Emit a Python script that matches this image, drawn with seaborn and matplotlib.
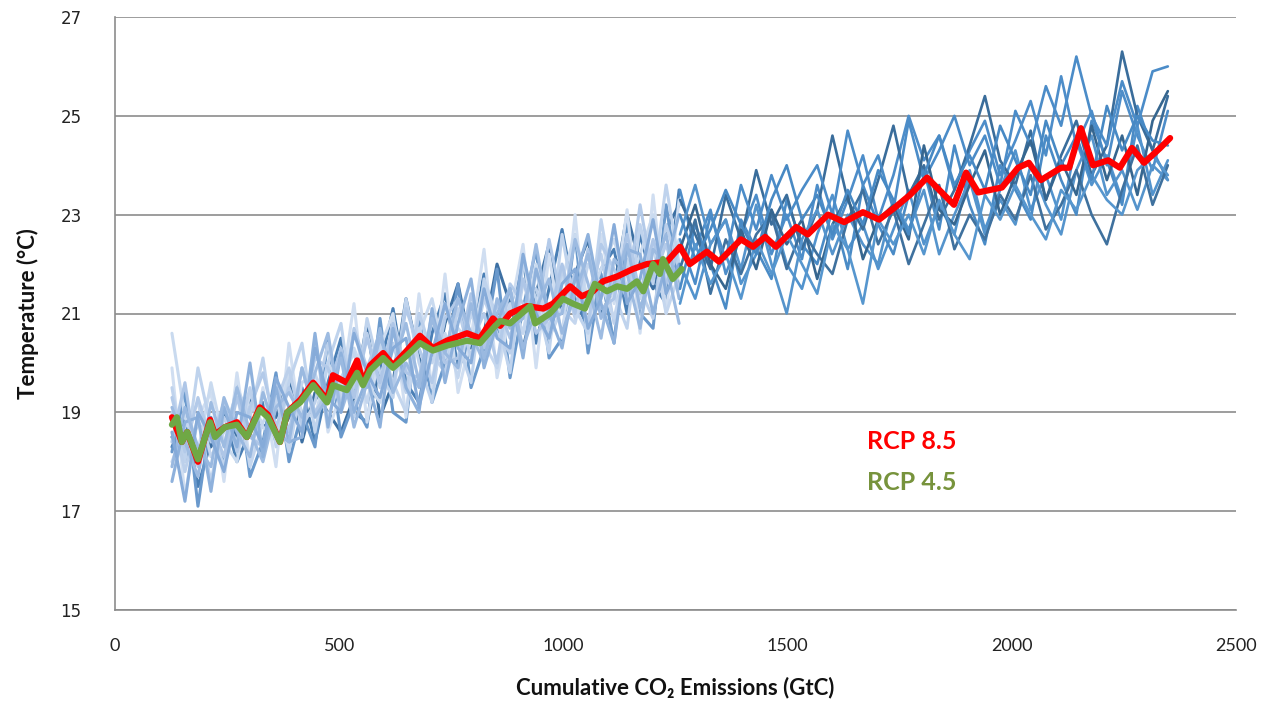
import numpy as np
import pandas as pd
import matplotlib
matplotlib.use("Agg")
import matplotlib.pyplot as plt
import seaborn as sns

# ---------------- data ----------------
rcp85_x = [127, 149, 161, 185, 212, 223, 245, 272, 294, 323, 341, 368, 384, 413, 442, 473, 486, 517, 540, 553,
           569, 598, 620, 651, 680, 709, 740, 785, 814, 843, 859, 881, 919, 955, 977, 1015, 1041, 1066, 1088, 1120,
           1155, 1186, 1231, 1260, 1282, 1320, 1347, 1396, 1423, 1450, 1474, 1519, 1545, 1590, 1626, 1668, 1704,
           1740, 1773, 1811, 1871, 1898, 1925, 1978, 2014, 2038, 2065, 2110, 2128, 2154, 2181, 2215, 2241, 2268,
           2295, 2331, 2353]
rcp85_y = [18.9, 18.4, 18.6, 18.0, 18.85, 18.55, 18.7, 18.8, 18.5, 19.1, 18.95, 18.4, 19.0, 19.25, 19.6, 19.25,
           19.75, 19.6, 20.05, 19.6, 19.95, 20.2, 19.95, 20.25, 20.55, 20.3, 20.45, 20.6, 20.5, 20.9, 20.75, 21.0,
           21.15, 21.1, 21.2, 21.55, 21.35, 21.45, 21.65, 21.75, 21.9, 22.0, 22.05, 22.35, 22.0, 22.25, 22.05, 22.5,
           22.35, 22.55, 22.35, 22.75, 22.6, 23.0, 22.85, 23.05, 22.9, 23.15, 23.4, 23.75, 23.2, 23.85, 23.45,
           23.55, 23.95, 24.05, 23.7, 23.95, 23.95, 24.75, 24.0, 24.1, 23.95, 24.35, 24.05, 24.35, 24.55]

rcp45_x = [127, 138, 149, 161, 185, 201, 212, 223, 245, 272, 294, 323, 341, 368, 384, 413, 442, 473, 486, 517,
           540, 553, 569, 598, 620, 651, 680, 709, 740, 785, 814, 843, 859, 881, 926, 937, 970, 999, 1021, 1048,
           1070, 1097, 1120, 1142, 1164, 1178, 1200, 1215, 1222, 1244, 1264]
rcp45_y = [18.75, 18.9, 18.4, 18.6, 18.05, 18.5, 18.8, 18.5, 18.7, 18.75, 18.5, 19.05, 18.9, 18.4, 19.0, 19.2,
           19.55, 19.2, 19.55, 19.45, 19.8, 19.55, 19.85, 20.1, 19.9, 20.15, 20.4, 20.25, 20.35, 20.45, 20.4, 20.7,
           20.85, 20.8, 21.15, 20.8, 21.0, 21.3, 21.2, 21.1, 21.6, 21.45, 21.55, 21.5, 21.65, 21.45, 22.0, 21.8,
           22.1, 21.7, 21.9]

# ensemble members, early period (cumulative emissions 127-1258 GtC)
early_x = np.linspace(127, 1258, 40)
early_1 = [19.3, 18.2, 19.3, 18.4, 19.2, 18.2, 19.1, 19.8, 18.7, 19.5, 18.8, 20.1, 19.9, 19.1, 20.7, 19.9, 20.6, 19.5,
           21.1, 20.3, 19.6, 20.9, 21.3, 20.4, 21.0, 20.0, 21.6, 21.2, 20.8, 22.5, 21.2, 21.8, 20.8, 22.4, 21.9, 21.3,
           23.2, 21.7, 22.4, 21.5]
early_2 = [18.4, 19.6, 17.9, 18.8, 18.1, 19.3, 18.5, 18.3, 19.6, 18.6, 19.9, 19.0, 19.4, 20.3, 19.3, 20.5, 19.6, 20.8,
           19.8, 19.7, 20.9, 20.0, 20.1, 21.4, 20.3, 21.2, 20.5, 21.7, 20.6, 20.9, 22.0, 21.0, 22.3, 21.1, 21.3, 22.6,
           21.4, 22.5, 21.6, 22.3]
early_3 = [19.0, 17.8, 18.9, 17.6, 18.9, 18.4, 19.5, 18.2, 19.2, 19.9, 18.7, 19.2, 20.4, 19.2, 19.5, 20.6, 19.5, 20.4,
           19.4, 21.0, 20.2, 19.8, 21.1, 20.1, 21.3, 20.6, 20.2, 21.6, 21.5, 20.7, 21.9, 20.9, 21.4, 22.2, 20.8, 22.0,
           21.5, 20.9, 22.8, 21.9]
early_4 = [20.6, 18.9, 18.2, 19.6, 18.4, 18.0, 19.4, 18.7, 18.5, 19.8, 19.0, 18.9, 20.0, 19.5, 20.3, 19.6, 19.2, 20.9,
           19.8, 20.6, 21.3, 20.1, 20.7, 20.4, 21.6, 20.8, 21.4, 20.6, 22.0, 21.0, 21.7, 22.6, 21.2, 21.9, 22.5, 21.5,
           22.2, 23.0, 21.7, 22.5]
early_5 = [17.9, 19.1, 18.3, 17.9, 19.3, 18.6, 18.1, 19.4, 18.6, 18.4, 19.9, 18.9, 19.3, 20.1, 18.7, 19.6, 20.7, 19.4,
           20.0, 19.5, 20.9, 20.2, 19.9, 21.2, 20.1, 21.0, 21.5, 20.3, 21.1, 21.7, 20.6, 21.4, 22.2, 20.9, 21.6, 22.4,
           21.1, 21.9, 22.6, 21.3]
early_6 = [18.6, 17.2, 19.0, 18.5, 17.8, 19.0, 18.9, 18.3, 19.7, 19.1, 18.6, 20.3, 19.3, 19.0, 20.6, 19.8, 19.3, 20.3,
           20.5, 19.1, 20.2, 21.2, 20.3, 20.0, 21.5, 20.5, 20.3, 22.2, 21.0, 20.5, 21.6, 21.9, 20.7, 21.3, 22.8, 21.2,
           21.7, 22.9, 21.4, 22.0]
early_7 = [18.3, 18.9, 17.5, 18.4, 19.0, 18.0, 18.6, 19.2, 18.4, 18.9, 19.5, 18.4, 19.6, 20.5, 19.0, 18.8, 19.9, 21.1,
           19.6, 19.2, 20.6, 21.4, 19.9, 20.4, 21.8, 20.6, 21.1, 22.1, 20.4, 21.5, 22.7, 21.3, 20.7, 21.9, 22.3, 21.0,
           22.6, 21.6, 21.2, 23.5]
early_8 = [18.5, 18.0, 18.8, 18.3, 19.0, 18.5, 19.3, 18.7, 18.9, 19.7, 18.4, 19.4, 19.0, 18.6, 19.3, 20.8, 18.9, 19.6,
           21.3, 20.1, 19.5, 20.8, 21.6, 20.3, 20.6, 22.0, 21.2, 20.3, 21.4, 22.4, 21.0, 21.8, 22.5, 21.0, 21.5, 23.0,
           22.0, 21.5, 22.7, 23.2]
early_9 = [18.0, 18.7, 19.2, 18.1, 18.6, 19.4, 17.9, 18.8, 19.3, 18.2, 19.6, 19.8, 18.9, 19.7, 20.2, 19.2, 20.4, 19.6,
           19.0, 20.7, 20.0, 20.6, 19.7, 21.0, 20.4, 19.9, 21.2, 20.6, 21.9, 20.5, 21.1, 20.8, 22.0, 21.6, 20.9, 22.1,
           21.3, 22.4, 21.0, 21.8]
early_10 = [19.1, 18.4, 17.7, 19.2, 18.3, 19.5, 18.6, 18.0, 19.1, 19.4, 18.9, 19.8, 20.6, 19.0, 19.8, 19.5, 20.5, 19.9,
            20.8, 19.6, 21.0, 20.2, 21.3, 20.6, 20.0, 21.3, 20.7, 20.9, 22.4, 20.9, 21.0, 22.5, 21.6, 20.5, 22.1, 21.8,
            20.7, 22.3, 22.0, 20.8]
early_11 = [19.9, 17.3, 18.9, 19.4, 17.6, 19.8, 18.0, 19.5, 17.9, 20.4, 18.5, 20.5, 18.6, 19.4, 21.2, 18.8, 20.3, 21.0,
            18.9, 21.4, 19.5, 21.8, 19.4, 20.5, 22.3, 19.7, 21.0, 22.4, 19.9, 22.2, 20.5, 23.0, 20.4, 22.6, 21.2, 23.1,
            20.6, 23.4, 21.0, 23.3]
early_12 = [18.2, 19.4, 17.1, 18.9, 18.0, 19.6, 17.7, 18.4, 19.8, 18.0, 19.0, 18.3, 20.5, 18.5, 19.2, 18.7, 20.9, 19.0,
            18.8, 21.0, 19.2, 20.0, 21.6, 19.5, 20.3, 21.9, 19.7, 21.1, 22.3, 20.1, 20.5, 22.6, 20.2, 21.8, 20.4, 22.9,
            21.0, 20.7, 23.2, 21.5]
early_13 = [19.5, 18.0, 19.9, 18.7, 17.9, 19.5, 18.9, 20.1, 18.3, 19.6, 20.4, 18.6, 20.0, 20.8, 18.9, 20.9, 19.8, 19.3,
            21.3, 20.0, 19.2, 21.2, 20.4, 19.6, 21.7, 20.9, 19.8, 22.0, 21.3, 20.2, 22.6, 21.1, 20.6, 22.9, 21.4, 20.7,
            22.8, 21.6, 23.6, 22.0]
early_14 = [17.6, 18.8, 18.9, 17.4, 19.1, 18.3, 20.0, 18.1, 19.5, 18.4, 18.5, 20.6, 18.7, 20.2, 19.0, 19.7, 18.7, 20.7,
            19.5, 19.0, 21.1, 19.6, 20.8, 21.7, 19.9, 20.8, 21.5, 20.1, 21.9, 21.0, 20.3, 21.7, 22.6, 21.2, 20.4, 22.3,
            22.2, 21.0, 22.0, 23.0]

# ensemble members, late period (RCP 8.5 only, 1260-2348 GtC)
late_x = np.linspace(1260, 2348, 33)
late_1 = [23.5, 22.3, 23.1, 21.8, 22.6, 23.4, 22.2, 23.0, 22.1, 23.6, 22.5, 23.3, 24.2, 22.9, 23.8, 25.0, 24.1, 24.6,
          23.5, 24.3, 24.9, 23.8, 24.5, 25.3, 24.2, 25.8, 24.4, 25.1, 24.0, 25.5, 24.6, 23.9, 25.1]
late_2 = [22.0, 21.3, 22.4, 22.9, 21.6, 22.2, 23.1, 22.0, 21.5, 22.6, 23.4, 22.3, 22.8, 21.9, 22.7, 23.5, 22.4, 23.2,
          22.6, 23.9, 22.7, 23.5, 24.3, 23.1, 23.8, 22.9, 24.5, 23.6, 24.2, 23.3, 24.8, 23.4, 24.1]
late_3 = [21.5, 22.8, 22.0, 21.1, 22.9, 22.3, 21.7, 23.3, 22.4, 22.0, 23.1, 21.9, 23.6, 22.8, 22.2, 23.4, 23.9, 22.7,
          24.4, 23.2, 22.4, 24.0, 23.5, 22.9, 24.6, 23.7, 23.0, 24.9, 24.1, 23.2, 25.2, 24.3, 23.7]
late_4 = [23.3, 22.6, 21.9, 23.4, 22.5, 23.9, 22.8, 23.4, 22.3, 23.1, 24.6, 23.3, 22.7, 23.7, 24.8, 23.4, 24.0, 22.9,
          23.5, 24.4, 25.4, 24.1, 23.6, 24.7, 23.3, 24.2, 24.9, 23.8, 24.4, 26.3, 25.0, 24.3, 25.4]
late_5 = [22.6, 23.6, 22.4, 22.9, 21.9, 23.2, 22.0, 21.0, 22.5, 23.1, 22.2, 23.0, 22.4, 22.0, 23.3, 22.7, 23.5, 22.2,
          23.0, 23.7, 22.6, 23.3, 22.8, 24.0, 23.2, 22.6, 23.9, 24.6, 23.4, 23.9, 23.1, 24.0, 23.7]
late_6 = [21.9, 22.9, 21.4, 22.5, 21.8, 22.6, 23.0, 21.9, 22.7, 22.2, 21.8, 22.9, 23.5, 22.4, 23.1, 22.0, 22.8, 23.6,
          22.3, 23.0, 22.5, 23.4, 22.9, 23.8, 22.7, 23.2, 23.9, 23.0, 22.4, 23.5, 24.4, 23.2, 24.0]
late_7 = [22.5, 21.6, 23.0, 22.1, 23.6, 22.7, 23.8, 22.9, 23.5, 24.0, 23.0, 24.7, 23.6, 24.2, 23.1, 24.9, 23.7, 24.3,
          25.0, 24.0, 24.6, 23.6, 25.1, 24.4, 25.6, 24.8, 26.2, 25.0, 24.4, 25.7, 24.8, 25.9, 26.0]
late_8 = [22.3, 23.2, 22.0, 21.5, 22.7, 21.9, 23.1, 22.4, 22.9, 21.7, 22.8, 23.4, 22.1, 22.9, 23.2, 22.5, 24.4, 23.1,
          22.8, 23.6, 24.3, 23.0, 23.8, 24.5, 23.3, 24.1, 23.4, 24.8, 23.7, 24.6, 23.4, 24.9, 25.5]
late_9 = [21.2, 22.4, 21.6, 22.2, 21.3, 22.5, 21.8, 22.6, 22.0, 21.4, 22.8, 22.3, 21.2, 22.9, 22.4, 23.0, 22.2, 23.3,
          22.6, 22.1, 23.4, 22.9, 23.6, 23.0, 22.5, 23.5, 23.1, 23.8, 23.3, 23.0, 23.9, 24.2, 23.8]
late_10 = [23.0, 22.1, 22.7, 23.5, 22.8, 22.2, 23.3, 24.0, 22.9, 23.4, 22.6, 23.5, 22.8, 23.9, 23.3, 22.6, 23.8, 24.6,
           23.6, 24.2, 23.5, 24.8, 24.1, 23.4, 24.9, 24.0, 24.6, 23.7, 25.2, 24.3, 25.0, 24.5, 24.4]

x_ticks = [0, 500, 1000, 1500, 2000, 2500]
y_ticks = [15, 17, 19, 21, 23, 25, 27]
labels = ["RCP 8.5", "RCP 4.5"]

# ---------------- style ----------------
sns.set_style("white")
plt.rcParams["font.family"] = ["DejaVu Sans"]

fig = plt.figure(figsize=(12.76, 7.05), dpi=100)
ax = fig.add_axes([115 / 1276, 95 / 705, 1121 / 1276, 593 / 705])

early = [early_7, early_8, early_12, early_11, early_4, early_13, early_3, early_9, early_2, early_1, early_10,
         early_14, early_5, early_6]
early_cols = ["#4a7fb5", "#3d70a3", "#6a99cc", "#d0def1", "#c9daef", "#bfd3ed", "#bcd0eb", "#c4d6ee",
              "#aec6e7", "#b3cae9", "#9dbbe1", "#8eb1dc", "#9ab9e0", "#86abd9"]
for ys, c in zip(early, early_cols):
    sns.lineplot(x=early_x, y=ys, color=c, lw=2.2, ax=ax, sort=False, estimator=None)

late = [late_1, late_2, late_3, late_4, late_5, late_6, late_7, late_8, late_9, late_10]
late_cols = ["#4d8dc9", "#5293cd", "#4a8bc6", "#3a6d9b", "#5594cc", "#3f719e",
             "#4b8cc8", "#36668f", "#5696ce", "#4789c4"]
for ys, c in zip(late, late_cols):
    sns.lineplot(x=late_x, y=ys, color=c, lw=1.9, ax=ax, sort=False, estimator=None)

sns.lineplot(x=rcp85_x, y=rcp85_y, color="#ff0000", lw=4.5, ax=ax, sort=False, estimator=None)
sns.lineplot(x=rcp45_x, y=rcp45_y, color="#6fa845", lw=4.5, ax=ax, sort=False, estimator=None)

ax.set_xlim(0, 2500)
ax.set_ylim(15, 27)
ax.set_xticks(x_ticks)
ax.set_yticks(y_ticks)
ax.set_xticklabels([str(v) for v in x_ticks], family=["Lato", "DejaVu Sans"], fontsize=13, color="#222222")
ax.set_yticklabels([str(v) for v in y_ticks], family=["DejaVu Sans"], fontsize=12, color="#222222")
ax.tick_params(axis="both", length=0)
ax.tick_params(axis="y", pad=24)
ax.tick_params(axis="x", pad=20)

ax.grid(axis="y", color="#8c8c8c", lw=1.2)
ax.grid(axis="x", visible=False)
for s in ["top", "right"]:
    ax.spines[s].set_visible(False)
for s in ["left", "bottom"]:
    ax.spines[s].set_color("#8c8c8c")
    ax.spines[s].set_linewidth(1.2)
ax.set_axisbelow(True)

ax.set_xlabel("Cumulative CO₂ Emissions (GtC)", family=["Lato", "DejaVu Sans"], fontweight="bold",
              fontsize=16, color="#111111")
ax.set_ylabel("Temperature (°C)", family=["Lato", "DejaVu Sans"], fontweight="bold",
              fontsize=16, color="#111111")
ax.xaxis.set_label_coords(0.5, -0.113)
ax.yaxis.set_label_coords(-0.068, 0.5)

ax.text(1676, 18.4, labels[0], color="#ff0000", fontsize=18, fontweight="bold",
        family=["Lato", "DejaVu Sans"], ha="left", va="center")
ax.text(1676, 17.57, labels[1], color="#77933c", fontsize=18, fontweight="bold",
        family=["Lato", "DejaVu Sans"], ha="left", va="center")

fig.savefig("out.png", dpi=100)
